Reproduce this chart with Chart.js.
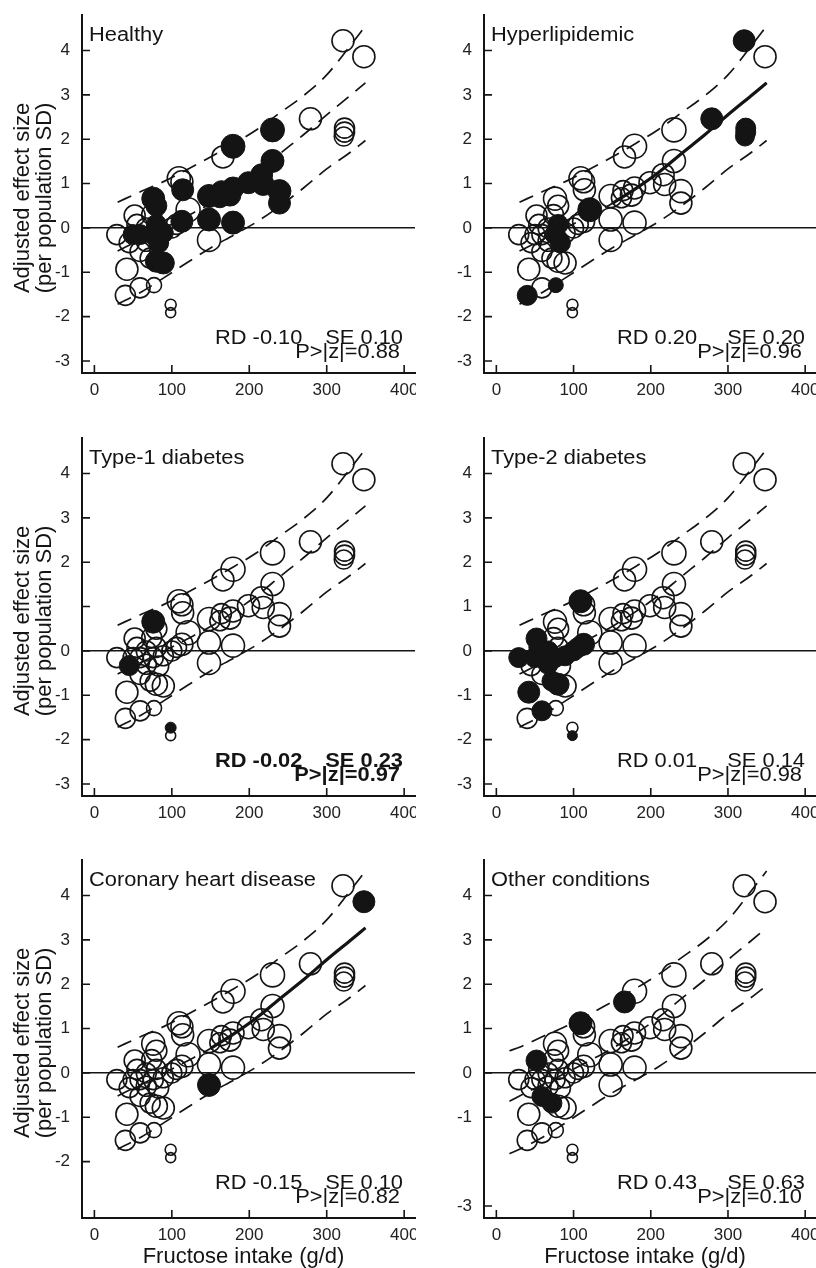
<!DOCTYPE html>
<html>
<head>
<meta charset="utf-8" />
<title>Fructose intake and adjusted effect size</title>
<script src="https://cdn.jsdelivr.net/npm/chart.js@4.4.1/dist/chart.umd.min.js"></script>
<style>
  body { margin: 0; background: #fff; }
  #wrap { position: relative; width: 816px; height: 1268px; overflow: hidden; background: #fff; }
  .panel { position: absolute; }
</style>
</head>
<body>
<div id="wrap"></div>
<script>
// studies shared by every panel: fructose intake (g/d), adjusted effect size, marker radius (study weight)
const studyX = [321, 348, 279, 323, 323, 322, 230, 179, 166, 230,
                109, 113, 114, 216, 218, 199, 239, 239, 179, 175,
                164, 162, 148, 148, 179, 148, 121, 113, 106, 100,
                29, 42, 40, 59, 77, 98.5, 98.5, 76, 80, 52,
                80, 89, 72, 59, 50, 55, 67, 80, 76, 67,
                45, 83, 89, 59, 74];
const studyY = [4.22, 3.86, 2.46, 2.25, 2.16, 2.06, 2.21, 1.84, 1.6, 1.51,
                1.12, 1.04, 0.86, 1.2, 0.98, 1.02, 0.83, 0.56, 0.9, 0.74,
                0.84, 0.68, 0.72, 0.19, 0.12, -0.27, 0.41, 0.15, 0.08, 0.0,
                -0.15, -0.93, -1.52, -1.35, -1.29, -1.73, -1.91, 0.66, 0.5, 0.28,
                -0.75, -0.79, -0.68, -0.53, -0.15, 0.08, 0.0, 0.08, -0.15, -0.3,
                -0.33, -0.34, -0.11, -0.15, 0.3];
const studyR = [11, 11, 11, 10, 10, 9.5, 12, 12, 11, 11.5,
                11.5, 11, 11, 11, 11, 11, 11.5, 11, 11, 11,
                10, 10, 11.5, 11.5, 11.5, 11.5, 12, 11, 10, 10,
                10, 11, 10, 10, 7.5, 5.5, 5, 11.5, 10.5, 10.5,
                11, 11, 10, 10, 10, 10, 10, 10, 10, 10,
                10, 10, 10, 10, 10];

// studies drawn filled in each panel (indexes into the arrays above)
const filledHealthy = [6, 7, 9, 12, 13, 14, 15, 16, 17, 18, 19, 20, 21, 22, 23, 24, 27, 37, 38, 40, 41, 44, 47, 48, 51, 52, 53];
const filledHyper = [0, 2, 3, 4, 5, 26, 32, 34, 47, 48, 51];
const filledType1 = [35, 37, 50];
const filledType2 = [10, 27, 28, 29, 30, 31, 33, 36, 39, 40, 42, 44, 45, 46, 48, 49, 52, 53];
const filledCHD = [1, 25];
const filledOther = [8, 10, 39, 42, 43];

const panelNames = ['Healthy', 'Hyperlipidemic', 'Type-1 diabetes', 'Type-2 diabetes', 'Coronary heart disease', 'Other conditions'];
const rdText = ['RD -0.10', 'RD 0.20', 'RD -0.02', 'RD 0.01', 'RD -0.15', 'RD 0.43'];
const seText = ['SE 0.10', 'SE 0.20', 'SE 0.23', 'SE 0.14', 'SE 0.10', 'SE 0.63'];
const pText = ['P>|z|=0.88', 'P>|z|=0.96', 'P>|z|=0.97', 'P>|z|=0.98', 'P>|z|=0.82', 'P>|z|=0.10'];

// fitted curve and its dashed bands
const curveX = [17, 30, 60, 90, 120, 150, 180, 210, 240, 270, 300, 330, 350];
const upperY = [0.50, 0.58, 0.82, 1.05, 1.32, 1.60, 1.90, 2.22, 2.60, 2.98, 3.45, 4.10, 4.55];
const middleY = [-0.64, -0.52, -0.26, 0.0, 0.27, 0.55, 0.88, 1.25, 1.68, 2.10, 2.55, 2.98, 3.27];
const lowerY = [-1.82, -1.72, -1.45, -1.12, -0.78, -0.45, -0.16, 0.14, 0.50, 0.90, 1.33, 1.70, 1.97];

const xTicks = [0, 100, 200, 300, 400];
const yMarks = [[-3, -2, -1, 0, 1, 2, 3, 4], [-3, -2, -1, 0, 1, 2, 3, 4], [-3, -2, -1, 0, 1, 2, 3, 4],
                [-3, -2, -1, 0, 1, 2, 3, 4], [-2, -1, 0, 1, 2, 3, 4], [-3, -1, 0, 1, 2, 3, 4]];
const yLabels = [[-3, -2, -1, 0, 1, 2, 3, 4], [-3, -2, -1, 0, 1, 2, 3, 4], [-3, -2, -1, 0, 2, 3, 4],
                 [-3, -2, -1, 0, 1, 2, 3, 4], [-2, -1, 0, 1, 2, 3, 4], [-3, -1, 0, 1, 2, 3, 4]];

const filledSets = [filledHealthy, filledHyper, filledType1, filledType2, filledCHD, filledOther];
const showFit = [false, true, false, false, true, false];
const curveStart = [30, 30, 30, 30, 30, 17];

// page layout
const cols = [{left: 0, width: 416, yw: 82, pr: 1}, {left: 416, width: 400, yw: 68, pr: 0}];
const rows = [{top: 0, height: 420, pt: 15, xh: 47}, {top: 420, height: 420, pt: 18, xh: 44}, {top: 840, height: 428, pt: 20, xh: 50}];
const FONT = '"Liberation Sans", Arial, Helvetica, sans-serif';
const INK = '#141414';

Chart.defaults.font.family = FONT;

// the panel captions in the figure are set a little wide, so stretch them horizontally
function wideText(ctx, text, x, y, align, sx) {
  ctx.save();
  ctx.translate(x, y);
  ctx.scale(sx, 1);
  ctx.textAlign = align;
  ctx.fillText(text, 0, 0);
  ctx.restore();
}

const deco = {
  id: 'deco',
  afterDraw(chart, args, o) {
    const ctx = chart.ctx, a = chart.chartArea, xs = chart.scales.x, ys = chart.scales.y;
    ctx.save();
    // inward tick marks
    ctx.strokeStyle = INK;
    ctx.lineWidth = 1.6;
    ctx.beginPath();
    xTicks.forEach(v => {
      const px = xs.getPixelForValue(v);
      ctx.moveTo(px, a.bottom);
      ctx.lineTo(px, a.bottom - 8);
    });
    o.marks.forEach(v => {
      const py = ys.getPixelForValue(v);
      ctx.moveTo(a.left, py);
      ctx.lineTo(a.left + 8, py);
    });
    ctx.stroke();

    // x tick labels
    ctx.fillStyle = '#222';
    ctx.font = '17px ' + FONT;
    ctx.textAlign = 'center';
    ctx.textBaseline = 'alphabetic';
    xTicks.forEach(v => ctx.fillText(String(v), xs.getPixelForValue(v), a.bottom + 22));

    const y0 = ys.getPixelForValue(0);
    ctx.fillStyle = INK;
    ctx.font = '19.5px ' + FONT;
    wideText(ctx, o.name, a.left + 7, a.top + 26, 'left', 1.12);

    ctx.font = (o.bold ? 'bold ' : '') + '19.5px ' + FONT;
    wideText(ctx, o.rd, a.left + 133, y0 + 116, 'left', 1.12);
    wideText(ctx, o.se, a.left + 321, y0 + 116, 'right', 1.12);
    wideText(ctx, o.p, a.left + 318, y0 + 130, 'right', 1.12);

    ctx.font = '22px ' + FONT;
    if (o.yTitle) {
      ctx.textAlign = 'center';
      [['Adjusted effect size', 53], ['(per population SD)', 31]].forEach(([t, dx]) => {
        ctx.save();
        ctx.translate(a.left - dx, y0 - 30);
        ctx.rotate(-Math.PI / 2);
        ctx.fillText(t, 0, 0);
        ctx.restore();
      });
    }
    if (o.xTitle) {
      ctx.textAlign = 'center';
      ctx.fillText('Fructose intake (g/d)', (a.left + a.right) / 2 - 5, a.bottom + 45);
    }
    ctx.restore();
  }
};

function curve(ys, from) {
  return curveX.map((x, k) => ({x: x, y: ys[k]})).filter(p => p.x >= from);
}

function makePanel(i) {
  const col = cols[i % 2], row = rows[Math.floor(i / 2)];
  const div = document.createElement('div');
  div.className = 'panel';
  div.style.left = col.left + 'px';
  div.style.top = row.top + 'px';
  const cv = document.createElement('canvas');
  cv.width = col.width;
  cv.height = row.height;
  cv.style.width = col.width + 'px';
  cv.style.height = row.height + 'px';
  div.appendChild(cv);
  document.getElementById('wrap').appendChild(div);

  const filled = filledSets[i];
  const openPts = [], filledPts = [];
  studyX.forEach((x, k) => {
    const p = {x: x, y: studyY[k], r: studyR[k]};
    (filled.indexOf(k) >= 0 ? filledPts : openPts).push(p);
  });

  const dashed = {showLine: true, pointRadius: 0, borderColor: INK, borderWidth: 1.7,
                  borderDash: [15, 9], cubicInterpolationMode: 'monotone', fill: false, order: 3};
  const datasets = [
    {data: filledPts, pointRadius: c => c.raw.r, pointHoverRadius: c => c.raw.r,
     backgroundColor: INK, borderColor: INK, borderWidth: 1, order: 0},
    {data: openPts, pointRadius: c => c.raw.r, pointHoverRadius: c => c.raw.r,
     backgroundColor: 'rgba(0,0,0,0)', borderColor: INK, borderWidth: 1.6, order: 1},
    Object.assign({data: curve(upperY, curveStart[i])}, dashed),
    Object.assign({data: curve(middleY, curveStart[i])}, dashed),
    Object.assign({data: curve(lowerY, curveStart[i])}, dashed)
  ];
  if (showFit[i]) {
    datasets.push({data: curve(middleY, 150), showLine: true, pointRadius: 0, borderColor: INK,
                   borderWidth: 3.2, cubicInterpolationMode: 'monotone', fill: false, order: 2});
  }

  new Chart(cv, {
    type: 'scatter',
    data: {datasets: datasets},
    plugins: [deco],
    options: {
      responsive: false,
      animation: false,
      events: [],
      layout: {autoPadding: false, padding: {top: row.pt, right: col.pr, bottom: 0, left: 0}},
      plugins: {
        legend: {display: false},
        tooltip: {enabled: false},
        deco: {
          name: panelNames[i], rd: rdText[i], se: seText[i], p: pText[i],
          marks: yMarks[i], bold: i === 2, yTitle: i % 2 === 0, xTitle: i >= 4
        }
      },
      scales: {
        x: {
          type: 'linear', min: -16, max: 414,
          afterBuildTicks: s => { s.ticks = xTicks.map(v => ({value: v})); },
          afterFit: s => { s.height = row.xh; s.paddingLeft = 0; s.paddingRight = 0; },
          grid: {display: false, drawTicks: false},
          border: {display: true, color: INK, width: 2},
          ticks: {display: false}
        },
        y: {
          type: 'linear', min: -3.27, max: 4.8,
          afterBuildTicks: s => { s.ticks = yMarks[i].map(v => ({value: v})); },
          afterFit: s => { s.width = col.yw; s.paddingTop = 0; s.paddingBottom = 0; },
          grid: {drawTicks: false, lineWidth: 1.6,
                 color: c => (c.tick && c.tick.value === 0 ? INK : 'rgba(0,0,0,0)')},
          border: {display: true, color: INK, width: 2},
          ticks: {color: '#222', font: {size: 17}, padding: 12,
                  callback: v => (yLabels[i].indexOf(v) >= 0 ? String(v) : '')}
        }
      }
    }
  });
}

for (let i = 0; i < 6; i++) makePanel(i);
</script>
</body>
</html>
